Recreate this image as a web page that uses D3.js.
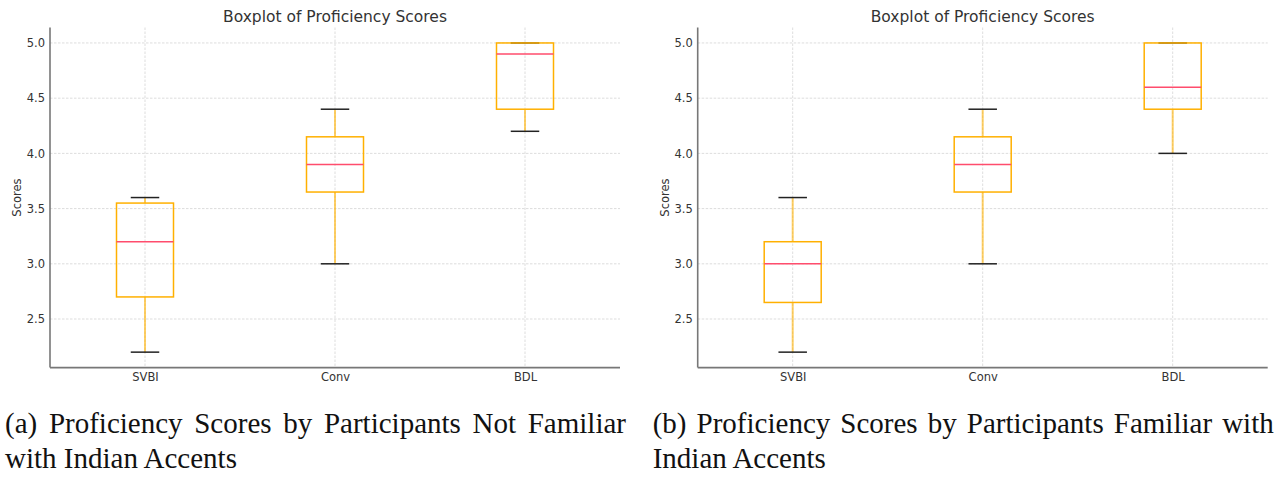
<!DOCTYPE html>
<html>
<head>
<meta charset="utf-8">
<script src="https://cdn.jsdelivr.net/npm/d3@7"></script>
<style>
  body { margin: 0; background: #fff; }
  svg { display: block; }
  .tick text { font-family: "DejaVu Sans", sans-serif; font-size: 11.5px; fill: #333; }
  .axis .domain { display: none; }
  .caption { font-family: "Liberation Serif", "Times New Roman", serif; font-size: 29px; fill: #111; }
</style>
</head>
<body>
<svg id="chart" width="1279" height="478"></svg>
<script>
// categories and y ticks shared by both panels
var categories = ['SVBI', 'Conv', 'BDL'];
var yTicks = [2.5, 3.0, 3.5, 4.0, 4.5, 5.0];

// (a) not familiar with Indian accents
var aWhiskerLow  = [2.2, 3.0, 4.2];
var aQ1          = [2.7, 3.65, 4.4];
var aMedian      = [3.2, 3.9, 4.9];
var aQ3          = [3.55, 4.15, 5.0];
var aWhiskerHigh = [3.6, 4.4, 5.0];

// (b) familiar with Indian accents
var bWhiskerLow  = [2.2, 3.0, 4.0];
var bQ1          = [2.65, 3.65, 4.4];
var bMedian      = [3.0, 3.9, 4.6];
var bQ3          = [3.2, 4.15, 5.0];
var bWhiskerHigh = [3.6, 4.4, 5.0];

var chartTitle = 'Boxplot of Proficiency Scores';
var yLabel = 'Scores';
var captionA = ['(a) Proficiency Scores by Participants Not Familiar', 'with Indian Accents'];
var captionB = ['(b) Proficiency Scores by Participants Familiar with', 'Indian Accents'];

var svg = d3.select('#chart');

//draws one boxplot panel
function drawPanel(left, stats, caption) {
  var width = 570, top = 27.5, bottom = 367.6;
  var g = svg.append('g');

  var x = d3.scaleLinear().domain([0.5, 3.5]).range([left, left + width]);
  var y = d3.scaleLinear().domain([2.06, 5.14]).range([bottom, top]);

  var rows = categories.map(function (c, i) {
    return { name: c, pos: i + 1, lo: stats[0][i], q1: stats[1][i], med: stats[2][i], q3: stats[3][i], hi: stats[4][i] };
  });

  // grid
  g.selectAll('line.hgrid').data(yTicks).enter().append('line')
    .attr('class', 'hgrid')
    .attr('x1', left).attr('x2', left + width)
    .attr('y1', function (d) { return y(d); }).attr('y2', function (d) { return y(d); })
    .attr('stroke', '#d4d4d4').attr('stroke-width', 0.8).attr('stroke-dasharray', '2.5,1.5');

  g.selectAll('line.vgrid').data(rows).enter().append('line')
    .attr('class', 'vgrid')
    .attr('x1', function (d) { return x(d.pos); }).attr('x2', function (d) { return x(d.pos); })
    .attr('y1', top).attr('y2', bottom)
    .attr('stroke', '#d4d4d4').attr('stroke-width', 0.8).attr('stroke-dasharray', '2.5,1.5');

  // axes labels (no tick marks)
  g.append('g').attr('class', 'axis')
    .attr('transform', 'translate(' + left + ',0)')
    .call(d3.axisLeft(y).tickValues(yTicks).tickSize(0).tickPadding(5).tickFormat(d3.format('.1f')));

  g.append('g').attr('class', 'axis')
    .attr('transform', 'translate(0,' + bottom + ')')
    .call(d3.axisBottom(x).tickValues([1, 2, 3]).tickSize(0).tickPadding(5)
      .tickFormat(function (d) { return categories[d - 1]; }));

  var half = 0.15 * (x(2) - x(1));
  var capHalf = half / 2;

  var box = g.selectAll('g.box').data(rows).enter().append('g').attr('class', 'box');

  // whiskers
  box.append('line')
    .attr('x1', function (d) { return x(d.pos); }).attr('x2', function (d) { return x(d.pos); })
    .attr('y1', function (d) { return y(d.lo); }).attr('y2', function (d) { return y(d.q1); })
    .attr('stroke', '#ffb000').attr('stroke-opacity', 0.6).attr('stroke-width', 2);
  box.append('line')
    .attr('x1', function (d) { return x(d.pos); }).attr('x2', function (d) { return x(d.pos); })
    .attr('y1', function (d) { return y(d.q3); }).attr('y2', function (d) { return y(d.hi); })
    .attr('stroke', '#ffb000').attr('stroke-opacity', 0.6).attr('stroke-width', 2);

  // caps
  ['lo', 'hi'].forEach(function (k) {
    box.append('line')
      .attr('x1', function (d) { return x(d.pos) - capHalf; }).attr('x2', function (d) { return x(d.pos) + capHalf; })
      .attr('y1', function (d) { return y(d[k]); }).attr('y2', function (d) { return y(d[k]); })
      .attr('stroke', '#222').attr('stroke-width', 1.5);
  });

  // box
  box.append('rect')
    .attr('x', function (d) { return x(d.pos) - half; })
    .attr('y', function (d) { return y(d.q3); })
    .attr('width', 2 * half)
    .attr('height', function (d) { return y(d.q1) - y(d.q3); })
    .attr('fill', 'none').attr('stroke', '#ffb000').attr('stroke-width', 1.5);

  // median
  box.append('line')
    .attr('x1', function (d) { return x(d.pos) - half; }).attr('x2', function (d) { return x(d.pos) + half; })
    .attr('y1', function (d) { return y(d.med); }).attr('y2', function (d) { return y(d.med); })
    .attr('stroke', '#ff4d6d').attr('stroke-width', 1.5);

  // spines: left and bottom only
  g.append('line').attr('x1', left).attr('x2', left).attr('y1', top).attr('y2', bottom)
    .attr('stroke', '#777').attr('stroke-width', 1.6);
  g.append('line').attr('x1', left).attr('x2', left + width).attr('y1', bottom).attr('y2', bottom)
    .attr('stroke', '#777').attr('stroke-width', 1.6);

  // title + y label
  g.append('text')
    .attr('x', left + width / 2).attr('y', 22)
    .attr('text-anchor', 'middle')
    .style('font-family', '"DejaVu Sans", sans-serif').style('font-size', '15.5px').style('fill', '#333')
    .text(chartTitle);

  g.append('text')
    .attr('transform', 'translate(' + (left - 29) + ',' + ((top + bottom) / 2) + ') rotate(-90)')
    .attr('text-anchor', 'middle')
    .style('font-family', '"DejaVu Sans", sans-serif').style('font-size', '11.5px').style('fill', '#333')
    .text(yLabel);

  // caption under the panel, first line justified by widening word gaps
  var capX = left - 45;
  var line1 = g.append('text').attr('class', 'caption')
    .attr('x', capX).attr('y', 433)
    .text(caption[0]);
  var natural = line1.node().getComputedTextLength();
  var gaps = caption[0].split(' ').length - 1;
  line1.style('word-spacing', ((621 - natural) / gaps) + 'px');

  g.append('text').attr('class', 'caption')
    .attr('x', capX).attr('y', 468)
    .text(caption[1]);
}

drawPanel(50, [aWhiskerLow, aQ1, aMedian, aQ3, aWhiskerHigh], captionA);
drawPanel(697.7, [bWhiskerLow, bQ1, bMedian, bQ3, bWhiskerHigh], captionB);
</script>
</body>
</html>
